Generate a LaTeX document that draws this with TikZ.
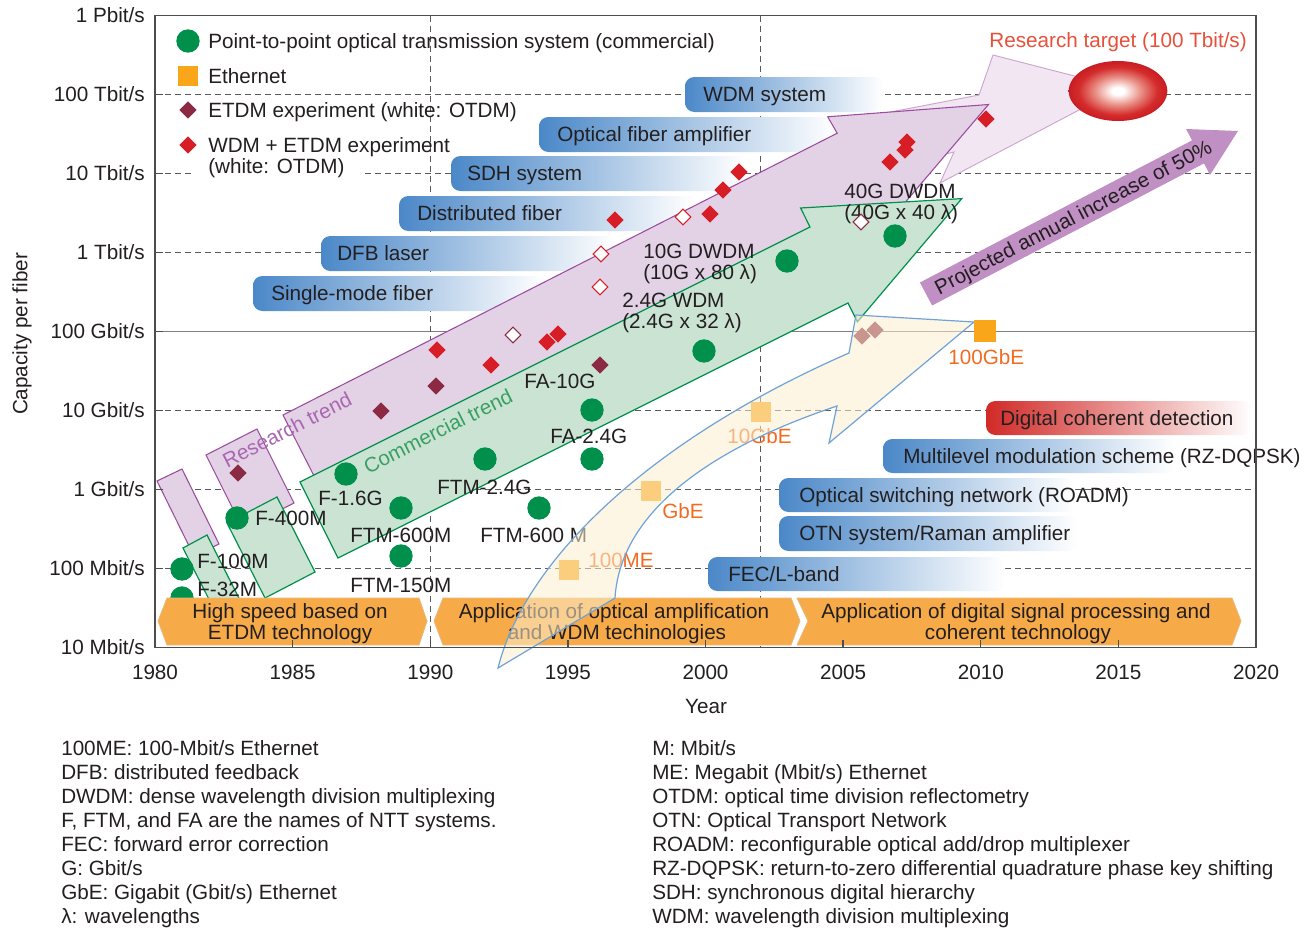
\documentclass[tikz,border=0pt]{standalone}
\usepackage{fontspec}
\setmainfont{Liberation Sans}
\usetikzlibrary{shapes.geometric}
\definecolor{ink}{HTML}{231F20}
\definecolor{gridgray}{HTML}{5A5A5A}
\definecolor{framegray}{HTML}{4D4D4D}
\definecolor{solidgray}{HTML}{808080}
\definecolor{gdot}{HTML}{00904C}
\definecolor{gfill}{HTML}{CBE3D3}
\definecolor{gline}{HTML}{00924A}
\definecolor{gtext}{HTML}{3A9F63}
\definecolor{pfill}{HTML}{E3D1E6}
\definecolor{pline}{HTML}{9B4C9F}
\definecolor{ptext}{HTML}{A867B0}
\definecolor{ffill}{HTML}{F1E6F2}
\definecolor{fline}{HTML}{CDA6CF}
\definecolor{yfill}{HTML}{FCEFCF}
\definecolor{yline}{HTML}{6FA3D8}
\definecolor{boxblue}{HTML}{4B88C8}
\definecolor{boxred}{HTML}{D12A27}
\definecolor{banner}{HTML}{F6AB48}
\definecolor{bannerline}{HTML}{E9B87A}
\definecolor{eth}{HTML}{F9A61A}
\definecolor{ethtext}{HTML}{F26B21}
\definecolor{etdm}{HTML}{8C2A43}
\definecolor{wdmred}{HTML}{D71E26}
\definecolor{projarrow}{HTML}{C08FC3}
\definecolor{target}{HTML}{E8503A}
\definecolor{ball}{HTML}{D42B2B}
\definecolor{ballmid}{HTML}{E88A80}
\definecolor{balldark}{HTML}{C81E24}
\newcommand{\fsz}{\fontsize{15.5}{18}\selectfont}
\pgfdeclareradialshading{ballshade}{\pgfpoint{0bp}{0bp}}{color(0bp)=(white); color(3bp)=(white); color(12bp)=(ballmid); color(20bp)=(ball); color(25bp)=(balldark); color(50bp)=(balldark)}
\begin{document}
\begin{tikzpicture}[x=0.75pt,y=-0.75pt,font=\fsz,
  txt/.style={anchor=west, inner sep=0pt, text height=11pt, text depth=0pt, text=ink},
  rtxt/.style={txt, anchor=east},
  ctxt/.style={txt, anchor=center},
  gridl/.style={draw=gridgray, line width=0.8pt, dash pattern=on 4.5pt off 3pt},
  bluebox/.style={rounded corners=7pt, left color=boxblue, right color=white},
  redbox/.style={rounded corners=7pt, left color=boxred, right color=white},
  bannerst/.style={fill=banner, draw=bannerline, line width=0.6pt},
  gdotst/.style={circle, fill=gdot, minimum size=17.5pt, inner sep=0pt},
  ethsq/.style={rectangle, fill=eth, minimum size=15.5pt, inner sep=0pt},
  etdmd/.style={diamond, fill=etdm, minimum size=13pt, inner sep=0pt},
  wdmd/.style={diamond, fill=wdmred, minimum size=13pt, inner sep=0pt},
  openr/.style={diamond, fill=white, draw=wdmred, line width=0.8pt, minimum size=12pt, inner sep=0pt},
  openm/.style={openr, draw=etdm},
  researchst/.style={fill=pfill, draw=pline, line width=0.8pt},
  commst/.style={fill=gfill, draw=gline, line width=0.9pt},
  faintst/.style={fill=ffill, draw=fline, line width=0.7pt},
  ethst/.style={fill=yfill, fill opacity=0.55, draw=yline, line width=0.9pt},
  ethlbl/.style={txt, text=ethtext}]
\useasboundingbox (0,0) rectangle (1316,928);
\fill[white] (0,0) rectangle (1316,928);

% grid
\foreach \yy in {94.5,173.5,252.5,410.5,489.5,568.5} \draw[gridl] (155,\yy) -- (1256,\yy);
\draw[solidgray, line width=1.4pt] (155,331.5) -- (1256,331.5);
\foreach \xx in {430.3,760.6} \draw[gridl] (\xx,15.5) -- (\xx,647.5);
\fill[white] (195,162) rectangle (363,185);

% technology boxes
\path[bluebox] (685,77) rectangle (883,112);
\path[bluebox] (539,117) rectangle (835,152);
\path[bluebox] (451,156) rectangle (745,191);
\path[bluebox] (399,196) rectangle (693,231);
\path[bluebox] (321,236) rectangle (615,271);
\path[bluebox] (253,276) rectangle (545,311);
\path[redbox] (986,401) rectangle (1252,435);
\path[bluebox] (883,439) rectangle (1175,473);
\path[bluebox] (779,478) rectangle (1075,512);
\path[bluebox] (779,516) rectangle (1078,551);
\path[bluebox] (708,557) rectangle (1005,591);
\node[txt] (twdm) at (703,94.5) {WDM system};
\node[txt] (tofa) at (557,134.5) {Optical fiber amplifier};
\node[txt] (tsdh) at (467,173.5) {SDH system};
\node[txt] (tdf) at (417,213.5) {Distributed fiber};
\node[txt] (tdfb) at (337,253.5) {DFB laser};
\node[txt] (tsmf) at (271,293.5) {Single-mode fiber};
\node[txt] (tdcd) at (1000,418) {Digital coherent detection};
\node[txt] (tml) at (903,456) {Multilevel modulation scheme (RZ-DQPSK)};
\node[txt] (tosn) at (799,495) {Optical switching network (ROADM)};
\node[txt] (totn) at (799,533.5) {OTN system/Raman amplifier};
\node[txt] (tfec) at (728,574) {FEC/L-band};

% research target arrow and ball
\path[faintst] (870,116) -- (979,95) -- (993,55) -- (1121,88) -- (940,183) -- (954,152) -- (900,165) -- cycle;
\node[ellipse, shade, shading=ballshade, minimum width=74pt, minimum height=45pt, inner sep=0pt] (ball) at (1118,91) {};
\node[rtxt, text=target] (ttarget) at (1247,40) {Research target (100 Tbit/s)};

% research trend
\path[researchst] (157,481) -- (182,469) -- (219,544) -- (194,556) -- cycle;
\path[researchst] (206,455) -- (257,429) -- (294,503) -- (243,529) -- cycle;
\path[researchst] (283,415) -- (837.2,133.2) -- (827.7,116.8) -- (988.5,104.5) -- (883.9,227.3) -- (876.2,209.8) -- (322,491.6) -- cycle;
\node[ctxt, text=ptext, rotate=27] (trt) at (287,430) {Research trend};

% commercial trend
\path[commst] (183,548) -- (207,535) -- (245,610) -- (221,623) -- cycle;
\path[commst] (227,523) -- (277,497) -- (315,572) -- (265,598) -- cycle;
\path[commst] (300,482) -- (810,227) -- (800.6,208) -- (961.8,198.6) -- (857.4,321.8) -- (848,303) -- (338,558) -- cycle;
\node[ctxt, text=gtext, rotate=26.6] (tct) at (438,431) {Commercial trend};

% projected arrow
\path[fill=projarrow] (919.9,282.5) -- (1192,140.4) -- (1186,129) -- (1238,131) -- (1210,175) -- (1204,163.4) -- (932.1,305.5) -- cycle;
\node[ctxt, rotate=27.6] (tproj) at (1073,217) {Projected annual increase of 50\%};

% green system points
\node[gdotst] (c32) at (182,598) {};
\node[gdotst] (c100) at (182,569) {};
\node[gdotst] (c400) at (237,518) {};
\node[gdotst] (c16) at (346,474) {};
\node[gdotst] (cftm6) at (401,508) {};
\node[gdotst] (cftm15) at (401,556) {};
\node[gdotst] (cftm24) at (485,459) {};
\node[gdotst] (cftm6b) at (539,508) {};
\node[gdotst] (cfa24) at (592,459) {};
\node[gdotst] (cfa10) at (592,410) {};
\node[gdotst] (cwdm24) at (704,351) {};
\node[gdotst] (cdwdm10) at (787,261) {};
\node[gdotst] (cdwdm40) at (895,236) {};
\node[txt] (lf32) at (197,589) {F-32M};
\node[txt] (lf100) at (197,561) {F-100M};
\node[txt] (lf400) at (255,518) {F-400M};
\node[txt] (lf16) at (318,498) {F-1.6G};
\node[txt] (lftm6) at (350,535) {FTM-600M};
\node[txt] (lftm15) at (350,585) {FTM-150M};
\node[txt] (lftm24) at (437,487) {FTM-2.4G};
\node[txt] (lftm6b) at (480,535) {FTM-600 M};
\node[txt] (lfa24) at (550,436) {FA-2.4G};
\node[txt] (lfa10) at (524,381) {FA-10G};
\node[txt] (lw24a) at (622,300) {2.4G WDM};
\node[txt] (lw24b) at (622,321) {(2.4G x 32 λ)};
\node[txt] (ld10a) at (643,251) {10G DWDM};
\node[txt] (ld10b) at (643,272) {(10G x 80 λ)};
\node[txt] (ld40a) at (844,191) {40G DWDM};
\node[txt] (ld40b) at (844,212) {(40G x 40 λ)};

% experiment points
\node[etdmd] (m1) at (238,473) {};
\node[etdmd] (m2) at (381,411) {};
\node[etdmd] (m3) at (436,386) {};
\node[etdmd] (m4) at (600,365) {};
\node[etdmd] (m5) at (862,336) {};
\node[etdmd] (m6) at (875,330) {};
\node[wdmd] (r1) at (437,350) {};
\node[wdmd] (r2) at (491,365) {};
\node[wdmd] (r3) at (547,342) {};
\node[wdmd] (r4) at (558,334) {};
\node[wdmd] (r5) at (615,220) {};
\node[wdmd] (r6) at (710,214) {};
\node[wdmd] (r7) at (723,190) {};
\node[wdmd] (r8) at (739,172) {};
\node[wdmd] (r9) at (890,162) {};
\node[wdmd] (r10) at (905,150) {};
\node[wdmd] (r11) at (907,142) {};
\node[wdmd] (r12) at (986,119) {};
\node[openm] (o1) at (513,335) {};
\node[openr] (o2) at (601,254) {};
\node[openr] (o3) at (600,287) {};
\node[openr] (o4) at (683,217) {};
\node[openm] (o5) at (861,222) {};

% era banners
\path[bannerst] (158,621) -- (167,598) -- (419,598) -- (427,621) -- (419,645) -- (167,645) -- cycle;
\path[bannerst] (434,621) -- (443,598) -- (791,598) -- (800,621) -- (791,645) -- (443,645) -- cycle;
\path[bannerst] (797,598) -- (1232,598) -- (1241,621) -- (1232,645) -- (797,645) -- (808,621) -- cycle;
\node[ctxt] (b1a) at (290,611) {High speed based on};
\node[ctxt] (b1b) at (290,632) {ETDM technology};
\node[ctxt] (b2a) at (614,611) {Application of optical amplification};
\node[ctxt] (b2b) at (617,632) {and WDM techinologies};
\node[ctxt] (b3a) at (1016,611) {Application of digital signal processing and};
\node[ctxt] (b3b) at (1018,632) {coherent technology};

% Ethernet
\node[ethsq] (e100m) at (569,570) {};
\node[ethsq] (e1g) at (651,491) {};
\node[ethsq] (e10g) at (761,412) {};
\node[ethlbl] (le100m) at (588,560) {100ME};
\node[ethlbl] (le1g) at (662,511) {GbE};
\node[ethlbl] (le10g) at (727,436) {10GbE};
\path[ethst] (498,668) .. controls (525,560) and (650,440) .. (849,353) -- (856,315) -- (974,322) -- (829,443) -- (837,406) .. controls (705,450) and (620,515) .. (615,598) -- cycle;
\node[ethsq, minimum size=16.5pt] (e100g) at (985,331) {};
\node[ethlbl] (le100g) at (948,357) {100GbE};

% frame, ticks, axes
\draw[framegray, line width=1.3pt] (155,15.5) rectangle (1256,647.5);
\foreach \yy in {94.5,173.5,252.5,331.5,410.5,489.5,568.5} \draw[framegray, line width=1pt] (155,\yy) -- (163,\yy);
\foreach \xx in {292.6,430.3,567.9,705.5,843.1,980.8,1118.4} \draw[framegray, line width=1pt] (\xx,647.5) -- (\xx,639.5);
\node[rtxt] (y1) at (145,15.5) {1 Pbit/s};
\node[rtxt] (y2) at (145,94.5) {100 Tbit/s};
\node[rtxt] (y3) at (145,173.5) {10 Tbit/s};
\node[rtxt] (y4) at (145,252.5) {1 Tbit/s};
\node[rtxt] (y5) at (145,331.5) {100 Gbit/s};
\node[rtxt] (y6) at (145,410.5) {10 Gbit/s};
\node[rtxt] (y7) at (145,489.5) {1 Gbit/s};
\node[rtxt] (y8) at (145,568.5) {100 Mbit/s};
\node[rtxt] (y9) at (145,647.5) {10 Mbit/s};
\node[ctxt] (x1) at (155,672) {1980};
\node[ctxt] (x2) at (292.6,672) {1985};
\node[ctxt] (x3) at (430.3,672) {1990};
\node[ctxt] (x4) at (567.9,672) {1995};
\node[ctxt] (x5) at (705.5,672) {2000};
\node[ctxt] (x6) at (843.1,672) {2005};
\node[ctxt] (x7) at (980.8,672) {2010};
\node[ctxt] (x8) at (1118.4,672) {2015};
\node[ctxt] (x9) at (1256,672) {2020};
\node[ctxt, rotate=90] (ytitle) at (20,334) {Capacity per fiber};
\node[ctxt] (xtitle) at (706,706) {Year};

% legend
\node[gdotst] (kg) at (188,41) {};
\node[ethsq] (ke) at (188,76) {};
\node[etdmd] (km) at (188,110) {};
\node[wdmd] (kr) at (188,145) {};
\node[txt] (lkg) at (208,41) {Point-to-point optical transmission system (commercial)};
\node[txt] (lke) at (208,76) {Ethernet};
\node[txt] (lkm) at (208,110) {ETDM experiment (white: OTDM)};
\node[txt] (lkr) at (208,145) {WDM + ETDM experiment};
\node[txt] (lkr2) at (208,166) {(white: OTDM)};

% footnotes
\node[txt] (fa1) at (61,748) {100ME: 100-Mbit/s Ethernet};
\node[txt] (fa2) at (61,772) {DFB: distributed feedback};
\node[txt] (fa3) at (61,796) {DWDM: dense wavelength division multiplexing};
\node[txt] (fa4) at (61,820) {F, FTM, and FA are the names of NTT systems.};
\node[txt] (fa5) at (61,844) {FEC: forward error correction};
\node[txt] (fa6) at (61,868) {G: Gbit/s};
\node[txt] (fa7) at (61,892) {GbE: Gigabit (Gbit/s) Ethernet};
\node[txt] (fa8) at (61,916) {λ: wavelengths};
\node[txt] (fb1) at (652,748) {M: Mbit/s};
\node[txt] (fb2) at (652,772) {ME: Megabit (Mbit/s) Ethernet};
\node[txt] (fb3) at (652,796) {OTDM: optical time division reflectometry};
\node[txt] (fb4) at (652,820) {OTN: Optical Transport Network};
\node[txt] (fb5) at (652,844) {ROADM: reconfigurable optical add/drop multiplexer};
\node[txt] (fb6) at (652,868) {RZ-DQPSK: return-to-zero differential quadrature phase key shifting};
\node[txt] (fb7) at (652,892) {SDH: synchronous digital hierarchy};
\node[txt] (fb8) at (652,916) {WDM: wavelength division multiplexing};
\end{tikzpicture}
\end{document}
